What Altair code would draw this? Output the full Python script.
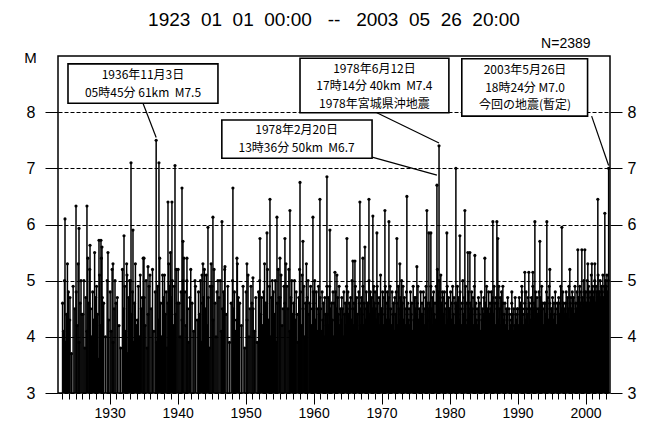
import altair as alt
import pandas as pd

SP = "\u00a0"  # non-collapsing space

# ---------------- text ----------------
TITLE_TEXT = (f"1923{SP*2}01{SP*2}01{SP*2}00:00{SP*3}--{SP*3}"
              f"2003{SP*2}05{SP*2}26{SP*2}20:00")
COUNT_TEXT = ["N=2389"]
COUNT_T = [1997.1]
COUNT_M = [9.21]

# ---------------- tick values ----------------
M_TICKS = [3, 4, 5, 6, 7, 8]
YEAR_MAJOR = [1930, 1940, 1950, 1960, 1970, 1980, 1990, 2000]
YEAR_MINOR = list(range(1923, 2004))

# ---------------- larger, individually readable events (decimal year, M) ----------------
major_t = [1923.43, 1924.16, 1925.05, 1925.49, 1926.66, 1927.11, 1928.43, 1928.72, 1928.87,
           1929.75, 1930.49, 1932.11, 1932.55, 1933.14, 1933.43, 1935.05, 1935.64, 1936.84,
           1937.25, 1938.58, 1939.16, 1939.61, 1940.64, 1940.78, 1941.37, 1942.55, 1943.58,
           1943.72, 1944.46, 1945.19, 1946.52, 1946.96, 1948.13, 1948.72, 1950.19, 1951.08,
           1952.11, 1953.14, 1953.58, 1954.61, 1955.05, 1955.78, 1956.52, 1958.00, 1958.43,
           1959.90, 1960.93, 1961.96, 1962.40, 1963.14, 1963.43, 1964.90, 1965.78, 1966.08,
           1966.81, 1967.25, 1967.55, 1968.14, 1968.72, 1969.31, 1970.49, 1971.08, 1972.25,
           1972.69, 1973.72, 1975.19, 1976.66, 1976.96, 1977.25, 1978.14, 1978.45, 1979.60,
           1980.93, 1981.52, 1982.25, 1982.69, 1982.99, 1983.72, 1985.19, 1986.37, 1986.96,
           1987.10, 1987.84, 1989.16, 1990.63, 1991.07, 1991.66, 1992.25, 1992.55, 1993.28,
           1994.31, 1994.75, 1996.52, 1997.69, 1998.87, 1999.46, 1999.90, 2000.34, 2000.93,
           2001.37, 2001.81, 2002.84, 2003.40]
major_m = [6.1, 4.7, 6.33, 5.93, 6.33, 5.63, 5.72, 5.72, 5.6,
           5.5, 5.3, 5.8, 5.1, 7.1, 5.9, 5.4, 5.25, 7.5,
           7.1, 6.4, 6.4, 7.05, 6.65, 5.7, 5.4, 5.0, 5.1,
           5.3, 5.95, 6.13, 6.05, 5.25, 6.65, 5.4, 5.3, 5.05,
           5.75, 5.85, 6.45, 6.13, 5.4, 5.75, 6.25, 6.75, 5.7,
           6.13, 6.45, 6.85, 5.9, 5.15, 5.1, 5.75, 5.35, 5.35,
           6.4, 5.4, 5.6, 6.45, 6.15, 5.85, 6.25, 6.05, 5.75,
           5.3, 6.5, 5.25, 6.25, 5.85, 5.85, 6.7, 7.4, 5.85,
           7.0, 5.8, 6.25, 5.5, 5.5, 5.45, 5.4, 6.05, 6.05,
           5.75, 4.9, 4.8, 4.9, 5.15, 5.15, 5.15, 6.05, 5.7,
           6.05, 5.2, 5.95, 5.2, 5.55, 5.55, 5.55, 5.3, 5.3,
           5.3, 6.45, 6.2, 7.0]

# ---------------- dense small events, per calendar year 1923..2003 (M values) ----------------
bg_start_year = 1923
bg_m = [
    "4.6 4.1 5.0 3.9 4.4 5.3 4.8", "4.3 3.7 4.9 4.5", "4.8 4.2 5.3 3.9 4.6 5.0 4.4",
    "4.4 5.0 3.8 4.7 4.1 5.4 4.6", "5.2 4.5 4.0 4.8 4.3 5.5 4.7", "4.9 4.4 3.6 5.1 4.2 5.4 4.7",
    "4.6 4.0 5.0 4.3", "4.8 4.1 5.2 3.9 4.5 5.0 4.6", "4.7 4.2 3.8 5.2",
    "4.5 4.9 4.1 5.3 3.7 4.7 5.0", "5.0 4.4 4.8 3.9 4.6 5.3 4.2", "4.3 4.9 4.0 5.1 4.5 4.7 5.4",
    "4.7 4.2 5.0 3.8 4.4 4.9 5.1", "4.5 5.2 4.1 4.8 3.9", "4.9 4.3 5.4 4.6 4.0 5.1 4.7",
    "5.1 4.4 4.8 3.8 4.6 5.3 4.9 5.5", "4.7 5.0 4.2 4.9 4.4 5.2 4.6", "5.2 4.6 4.0 4.8 4.3 5.0 5.4",
    "4.8 4.2 5.0 4.5 3.9 4.7 5.2", "4.6 4.1 4.9 4.3", "4.8 4.4 5.0 3.9 4.6 4.7 5.2",
    "4.5 5.1 4.2 4.7 3.8 4.9 5.3", "4.9 4.3 5.2 4.6 4.0 4.8 5.0", "4.7 5.0 4.1 4.5 4.8 5.2",
    "4.4 4.9 3.9 4.6", "5.0 4.5 4.8 4.1 4.3 5.3 4.7", "4.6 4.2 4.9 3.8",
    "4.8 4.3 5.1 4.0 4.5 4.9 4.6", "4.5 4.1 4.7 3.9 4.8", "5.0 4.4 4.7 4.2 4.8 5.3 4.6",
    "4.6 5.2 4.3 4.9 4.0 4.7 5.0", "4.8 4.4 5.0 3.9 4.6 5.2 4.7", "4.7 5.1 4.2 4.5 4.9 4.6 5.3",
    "4.9 4.5 5.2 4.1 4.7 5.0 4.4", "4.6 5.0 4.3 4.8 4.4 3.9 4.7 5.2", "4.8 4.2 5.1 4.5 4.9 4.0 4.6 5.3",
    "4.7 5.0 4.4 4.6 4.9 4.2 4.5 4.8", "4.6 5.0 4.3 4.8 4.5 4.1 4.9 4.4 4.7",
    "4.5 4.1 4.8 4.3 4.6 4.0 4.7 4.4 4.2 4.9", "4.4 4.7 4.2 4.9 4.5 4.1 4.6 4.3 4.8 4.0",
    "4.6 4.3 4.8 4.5 4.1 4.7 4.4 4.9 4.2 4.5", "4.3 4.7 4.5 4.0 4.8 4.4 4.6 4.2 4.9 4.5",
    "4.8 4.4 4.6 4.1 4.7 4.3 5.0 4.5 4.2 4.6", "4.5 4.9 4.3 4.7 4.4 4.1 4.8 4.6 4.2 4.5",
    "4.7 4.4 4.9 4.2 4.6 4.5 4.3 4.8 4.1 4.6", "4.6 5.0 4.4 4.8 4.3 4.7 4.5 4.2 4.9 4.6",
    "4.8 4.5 4.3 4.9 4.6 4.4 4.7 4.2 5.1 4.5", "4.5 4.8 4.2 4.7 4.4 4.9 4.6 4.3 4.8 4.5",
    "4.7 4.3 4.9 4.5 4.2 4.8 4.4 4.6 4.1 4.7", "4.4 4.8 4.6 4.2 4.9 4.5 4.3 4.7 4.4 5.0",
    "4.6 4.9 4.3 4.7 4.5 4.2 4.8 4.4 4.6 4.3", "4.5 4.2 4.8 4.4 4.6 4.1 4.9 4.3 4.7 4.5",
    "4.7 4.4 4.6 4.9 4.3 4.5 4.2 4.8 4.4 4.6", "4.4 4.8 4.5 4.2 4.7 4.9 4.3 4.6 4.5 4.1",
    "4.6 4.3 4.9 4.5 4.7 4.2 4.8 4.4 4.6 4.3", "4.9 4.6 5.2 4.4 4.8 5.0 4.5 4.7 5.1 4.6 4.3 4.8",
    "4.7 4.4 4.8 4.5 4.2 4.6 4.9 4.3 4.7 4.5", "4.5 4.8 4.3 4.6 4.9 4.4 4.7 4.2 4.6 4.5",
    "4.6 4.9 4.4 4.7 4.3 4.8 4.5 4.2 4.6 5.0", "4.4 4.7 4.5 4.9 4.2 4.6 4.3 4.8 4.5 4.4",
    "4.6 4.3 4.8 4.5 4.7 4.2 4.9 4.4 4.6 4.3", "4.5 4.2 4.7 4.4 4.6 4.1 4.8 4.3 4.5 4.4",
    "4.7 4.4 4.6 4.2 4.9 4.5 4.3 4.8 4.4 4.6", "4.5 4.8 4.3 4.7 4.4 4.9 4.6 4.2 4.7 4.5",
    "4.6 4.3 4.9 4.5 4.7 4.2 4.8 4.4 4.6 4.3", "4.4 4.6 4.2 4.5 4.3 4.7 4.1 4.5 4.4 4.2",
    "4.3 4.6 4.4 4.1 4.5 4.2 4.7 4.4 4.3 4.5", "4.5 4.2 4.7 4.4 4.6 4.3 4.8 4.5 4.2 4.4",
    "4.6 4.3 4.8 4.5 4.4 4.7 4.2 4.6 4.5 4.3", "4.7 4.4 4.9 4.5 4.6 4.3 4.8 4.5 4.7 4.4",
    "4.5 4.8 4.4 4.7 4.3 4.9 4.6 4.5 4.2 4.6", "4.6 4.4 4.8 4.5 4.7 4.3 4.9 4.6 4.4 4.5",
    "4.5 4.7 4.3 4.6 4.4 4.8 4.5 4.2 4.6 4.4", "4.7 4.4 4.6 4.9 4.5 4.3 4.8 4.6 4.4 4.5",
    "4.6 4.8 4.4 4.7 4.5 4.9 4.3 4.6 4.7 4.5", "4.8 4.5 4.7 4.4 4.9 4.6 4.5 4.8 4.6 4.7",
    "4.7 4.9 4.6 4.8 4.5 4.7 4.6 5.0 4.8 4.6", "4.8 4.6 5.0 4.7 4.9 4.6 4.8 4.7 5.1 4.8",
    "4.9 4.7 4.8 5.0 4.6 4.9 4.8 4.7 5.1 4.8", "4.8 5.0 4.7 4.9 4.8 5.1 4.7 4.9 4.8 5.0",
    "4.9 5.1 4.8 5.0",
]
LAST_YEAR_SPAN = 0.39  # catalogue ends 2003-05-26

# ---------------- annotation boxes (data coordinates: year, M) ----------------
box_t1 = [1923.87, 1958.0, 1946.5, 1981.8]
box_t2 = [1945.93, 1979.9, 1968.6, 2000.3]
box_m1 = [8.86, 8.96, 7.86, 8.95]
box_m2 = [8.16, 7.99, 7.18, 7.93]

lead_t1 = [1934.9, 1969.3, 1968.6, 2000.9]
lead_m1 = [8.16, 7.99, 7.20, 7.93]
lead_t2 = [1936.84, 1978.45, 1978.14, 2003.40]
lead_m2 = [7.55, 7.45, 6.88, 7.05]

ann_text = ["1936年11月3日", f"05時45分{SP}61km{SP*2}M7.5",
            "1978年6月12日", f"17時14分{SP}40km{SP*2}M7.4", "1978年宮城県沖地震",
            "1978年2月20日", f"13時36分{SP}50km{SP*2}M6.7",
            "2003年5月26日", f"18時24分{SP}M7.0", "今回の地震(暫定)"]
ann_t = [1934.9, 1934.9, 1968.95, 1968.95, 1968.95, 1957.5, 1957.5, 1991.1, 1991.1, 1991.1]
ann_m = [8.666, 8.346, 8.777, 8.466, 8.154, 7.683, 7.362, 8.751, 8.439, 8.128]

# ---------------- build tables ----------------
rows = []
for i, s in enumerate(bg_m):
    yr = bg_start_year + i
    vals = [float(v) for v in s.split()]
    span = LAST_YEAR_SPAN if yr == 2003 else 1.0
    n = len(vals)
    for j, m in enumerate(vals):
        rows.append({"t": yr + span * (j + 0.5) / n, "m": m})
for t, m in zip(major_t, major_m):
    rows.append({"t": t, "m": m})
events = pd.DataFrame(rows)
events["base"] = 3.0

boxes_df = pd.DataFrame({"t1": box_t1, "t2": box_t2, "m1": box_m1, "m2": box_m2})
lead_df = pd.DataFrame({"t1": lead_t1, "t2": lead_t2, "m1": lead_m1, "m2": lead_m2})
ann_df = pd.DataFrame({"t": ann_t, "m": ann_m, "txt": ann_text})
count_df = pd.DataFrame({"t": COUNT_T, "m": COUNT_M, "txt": COUNT_TEXT})

x_scale = alt.Scale(domain=[1922.4, 2003.6], nice=False, zero=False)
y_scale = alt.Scale(domain=[3, 9], nice=False, zero=False)

FONT = "Liberation Sans"
JFONT = "Noto Sans CJK JP"

stems = alt.Chart(events).mark_rule(color="black", strokeWidth=1.5).encode(
    x=alt.X("t:Q", scale=x_scale,
            axis=alt.Axis(orient="bottom", values=YEAR_MINOR, format="d", tickSize=6,
                          labelExpr="datum.value % 10 == 0 ? datum.label : ''",
                          labelOverlap=False, labelPadding=7, labelFontSize=14,
                          domain=False, grid=False, title=None, labelFlush=False)),
    y=alt.Y("m:Q", scale=y_scale,
            axis=alt.Axis(orient="left", values=M_TICKS, grid=True, gridDash=[4, 2],
                          gridColor="black", gridOpacity=1, gridWidth=1,
                          tickSize=13, labelPadding=10, labelFontSize=16, domain=False,
                          title="M", titleAngle=0, titleX=-28, titleY=1,
                          titleAlign="center", titleBaseline="middle",
                          titleFontSize=15, titleFontWeight="normal")),
    y2=alt.Y2("base:Q"),
)

dots = alt.Chart(events).mark_circle(size=10, color="black", opacity=1).encode(
    x=alt.X("t:Q", scale=x_scale,
            axis=alt.Axis(orient="bottom", values=YEAR_MAJOR, labels=False, tickSize=11,
                          domain=False, grid=False, title=None)),
    y=alt.Y("m:Q", scale=y_scale,
            axis=alt.Axis(orient="right", values=M_TICKS, grid=False, tickSize=12,
                          labelPadding=5, labelFontSize=16, domain=False, title=None)),
)

leaders = alt.Chart(lead_df).mark_rule(color="black", strokeWidth=1.2).encode(
    x=alt.X("t1:Q", scale=x_scale, axis=None), x2="t2:Q",
    y=alt.Y("m1:Q", scale=y_scale, axis=None), y2="m2:Q",
)

boxes = alt.Chart(boxes_df).mark_rect(fill="white", stroke="black", strokeWidth=1.6).encode(
    x=alt.X("t1:Q", scale=x_scale, axis=None), x2="t2:Q",
    y=alt.Y("m1:Q", scale=y_scale, axis=None), y2="m2:Q",
)

labels = alt.Chart(ann_df).mark_text(font=JFONT, fontSize=12, align="center",
                                     baseline="middle", color="black").encode(
    x=alt.X("t:Q", scale=x_scale, axis=None),
    y=alt.Y("m:Q", scale=y_scale, axis=None),
    text="txt:N",
)

count = alt.Chart(count_df).mark_text(font=FONT, fontSize=14, align="center",
                                      baseline="middle", color="black").encode(
    x=alt.X("t:Q", scale=x_scale, axis=None),
    y=alt.Y("m:Q", scale=y_scale, axis=None),
    text="txt:N",
)

chart = alt.layer(stems, dots, leaders, boxes, labels, count).resolve_axis(
    x="independent", y="independent"
).properties(
    width=552, height=337,
    title=alt.TitleParams(TITLE_TEXT, fontSize=19, font=FONT, fontWeight="normal",
                          anchor="middle", frame="group", offset=7, color="black"),
    autosize=alt.AutoSizeParams(type="none"),
    padding={"left": 50, "top": 48, "right": 30, "bottom": 26},
).configure_view(
    stroke="black", strokeWidth=1.5
).configure_axis(
    labelFont=FONT, labelColor="black", tickColor="black", tickWidth=1,
    titleFont=FONT, titleColor="black"
)

chart.save("out.html", embed_options={"renderer": "svg", "actions": False})
